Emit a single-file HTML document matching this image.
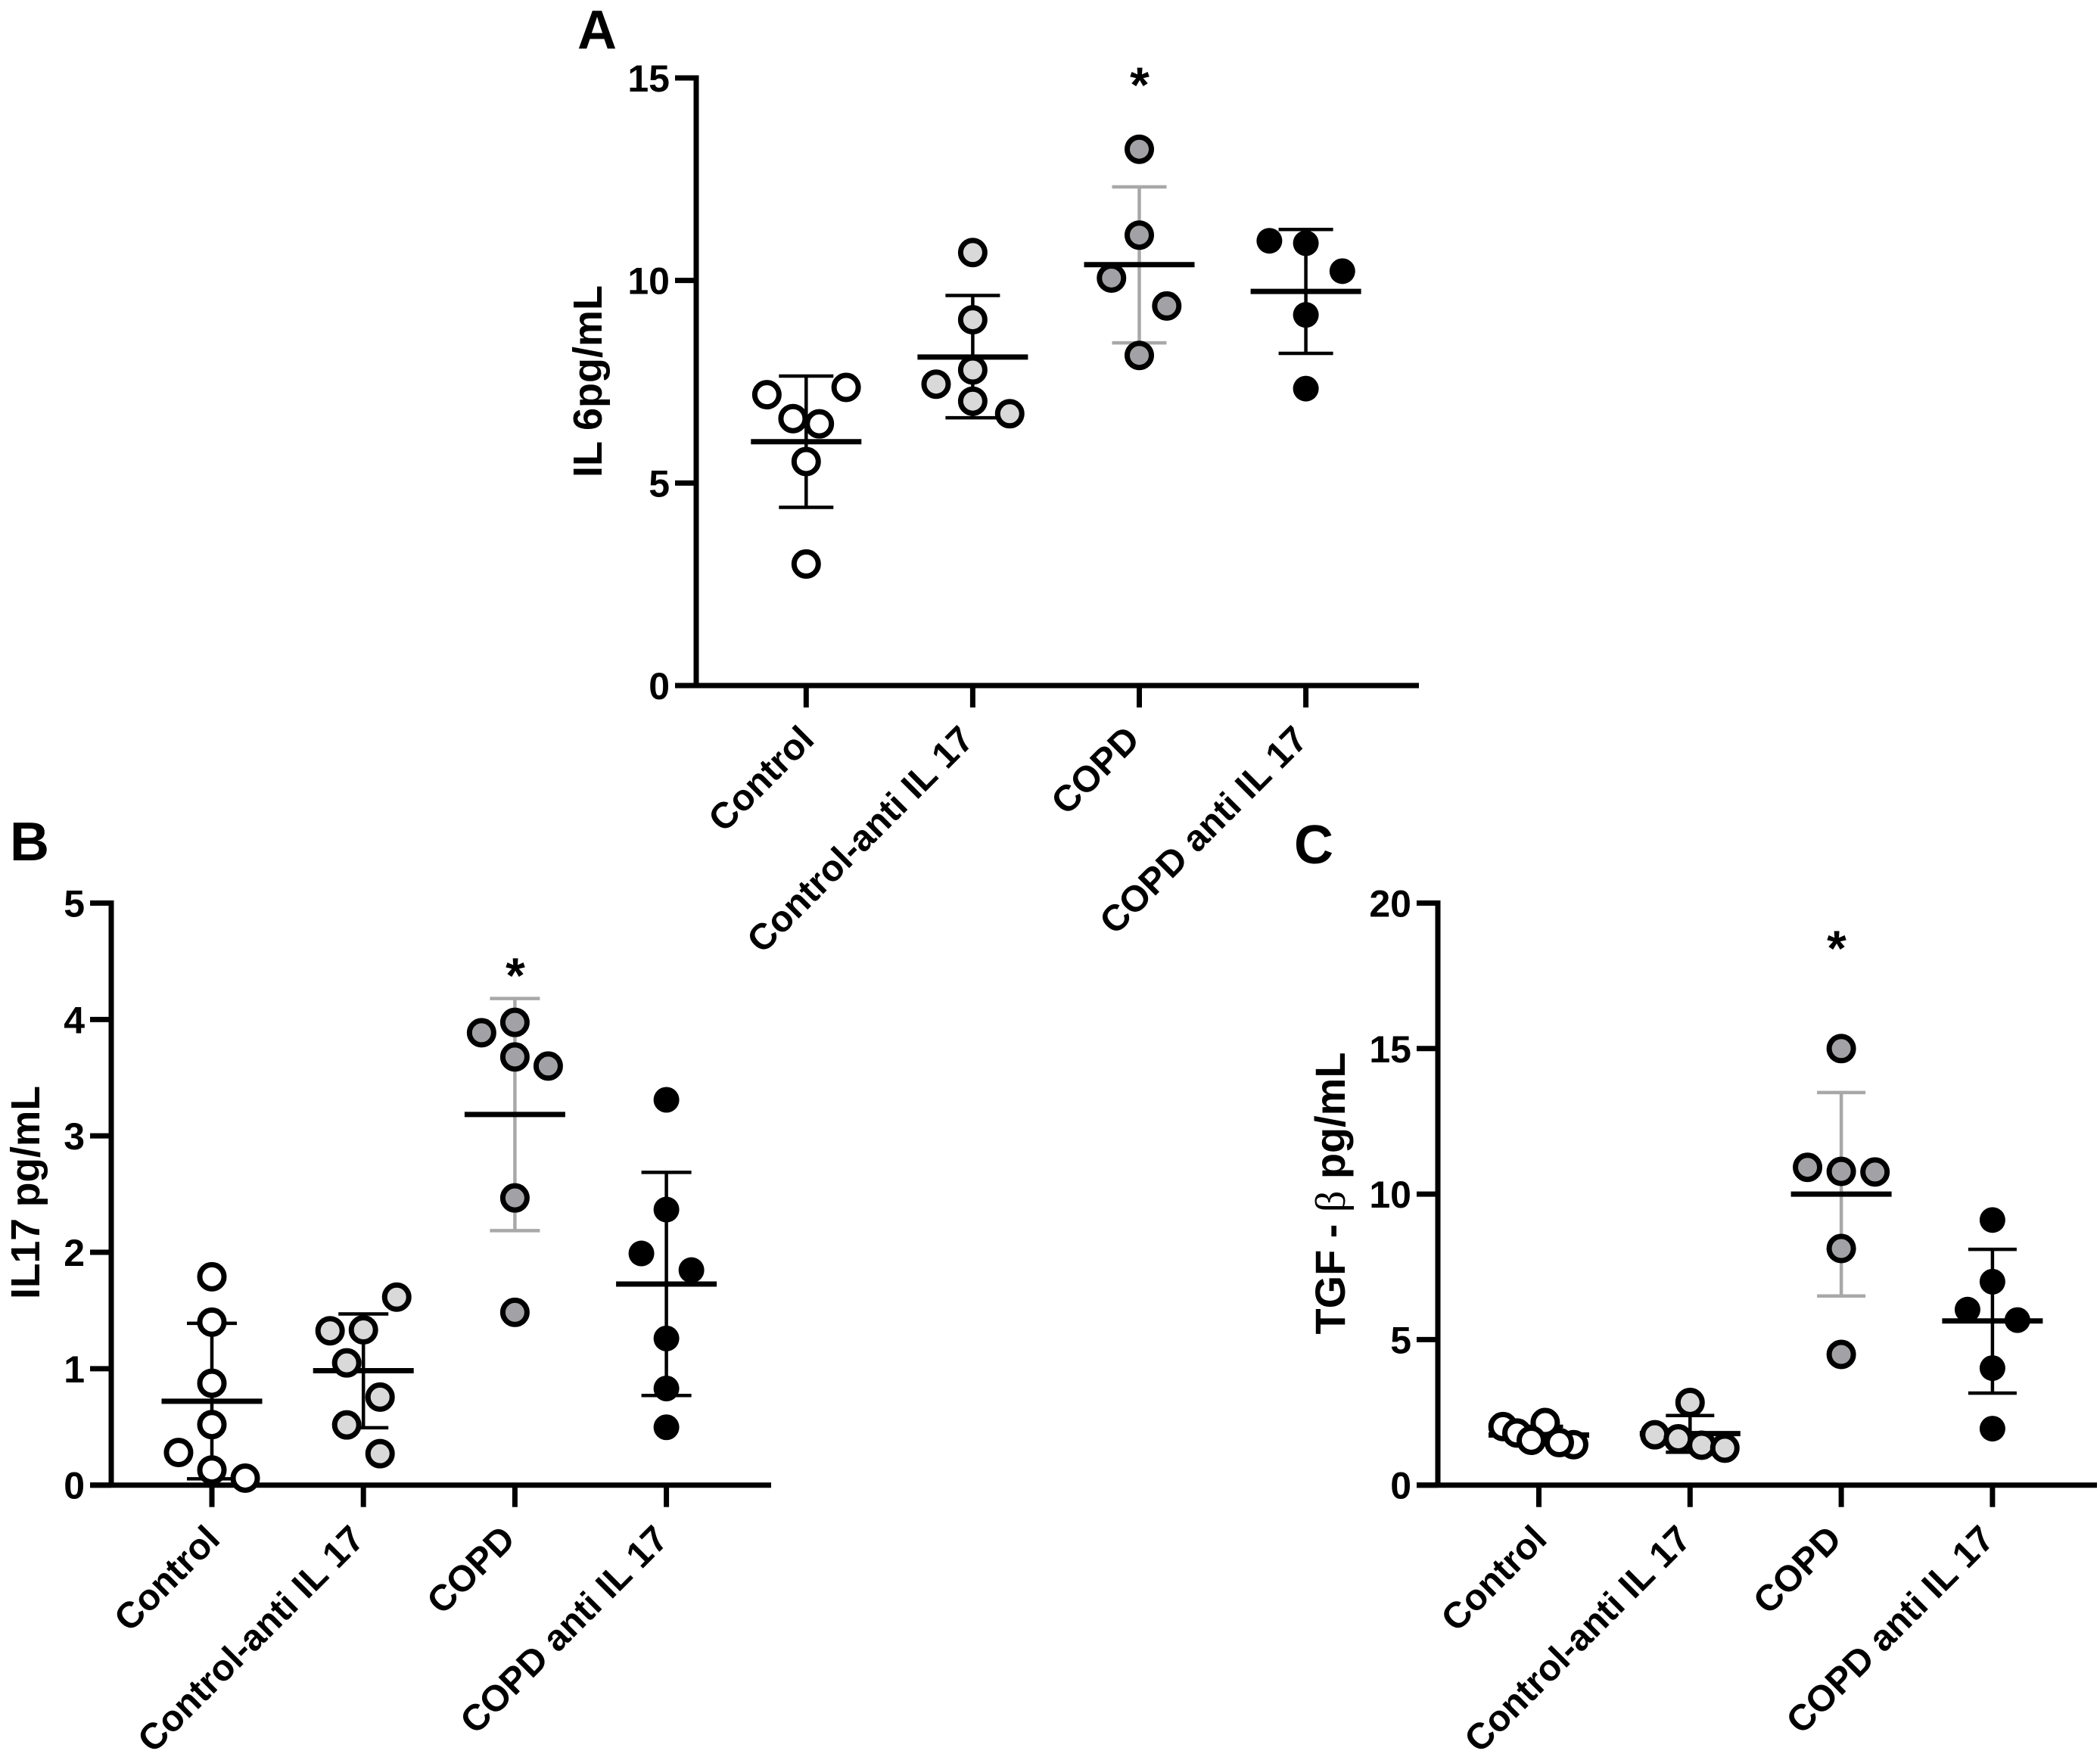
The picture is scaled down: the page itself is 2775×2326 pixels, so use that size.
<!DOCTYPE html>
<html lang="en">
<head>
<meta charset="utf-8">
<title>IL-6, IL-17 and TGF-β levels</title>
<style>
html,body{margin:0;padding:0;background:#fff;}
svg{display:block;}
text{font-family:"Liberation Sans",sans-serif;font-weight:700;fill:#000;}
</style>
</head>
<body>
<svg id="figure" xmlns="http://www.w3.org/2000/svg" width="2775" height="2326" viewBox="0 0 2775 2326">
<rect width="2775" height="2326" fill="#fff"/>
</svg>
<script>
var categories = ["Control", "Control-anti IL\u00a017", "COPD", "COPD anti IL\u00a017"];

var il6Ticks = [0, 5, 10, 15];
var il6Values = [
  [7.18, 7.36, 6.59, 6.46, 5.53, 3.0],
  [7.44, 6.71, 9.03, 7.79, 7.02, 10.69],
  [13.24, 11.12, 10.06, 9.37, 8.15],
  [10.98, 10.92, 10.23, 9.15, 7.33]
];
var il6Jitter = [
  [-0.236, 0.24, -0.079, 0.079, 0, 0],
  [-0.22, 0.222, 0, 0, 0, 0],
  [0, 0, -0.167, 0.165, 0],
  [-0.219, 0, 0.219, 0, 0]
];
var il6Means = [6.02, 8.11, 10.39, 9.73];
var il6Upper = [7.64, 9.63, 12.31, 11.26];
var il6Lower = [4.40, 6.61, 8.46, 8.20];

var il17Ticks = [0, 1, 2, 3, 4, 5];
var il17Values = [
  [1.79, 1.40, 0.875, 0.52, 0.28, 0.13, 0.06],
  [1.615, 1.326, 1.334, 1.05, 0.756, 0.517, 0.27],
  [3.975, 3.886, 3.678, 3.60, 2.467, 1.484],
  [3.31, 2.367, 1.99, 1.847, 1.26, 0.83, 0.497]
];
var il17Jitter = [
  [0, 0, 0, 0, -0.22, 0, 0.22],
  [0.22, -0.22, 0, -0.11, 0.11, -0.11, 0.11],
  [0, -0.22, 0, 0.22, 0, 0],
  [0, 0, -0.165, 0.165, 0, 0, 0]
];
var il17Means = [0.72, 0.983, 3.184, 1.727];
var il17Upper = [1.39, 1.47, 4.18, 2.687];
var il17Lower = [0.054, 0.493, 2.186, 0.77];

var tgfTicks = [0, 5, 10, 15, 20];
var tgfValues = [
  [2.01, 1.79, 1.39, 2.15, 1.54, 1.46],
  [2.84, 1.73, 1.59, 1.37, 1.27],
  [15.0, 10.92, 10.78, 10.76, 8.13, 4.49],
  [9.11, 6.99, 6.03, 5.67, 4.02, 1.94]
];
var tgfJitter = [
  [-0.237, -0.145, 0.23, 0.042, -0.05, 0.135],
  [0, -0.233, -0.078, 0.077, 0.23],
  [0, -0.223, 0, 0.223, 0, 0],
  [0, 0, -0.165, 0.165, 0, 0]
];
var tgfMeans = [1.72, 1.77, 10.0, 5.64];
var tgfUpper = [2.02, 2.39, 13.49, 8.1];
var tgfLower = [1.42, 1.13, 6.5, 3.16];

var groupFills = ["#ffffff", "#d9d9d9", "#a1a1a6", "#000000"];
var groupBars = ["#000000", "#000000", "#a8a8a8", "#000000"];
var labelNudge = [-2, -11, -12, -10];
var NS = "http://www.w3.org/2000/svg";
var svg = document.getElementById("figure");

function make(tag, attrs, parent) {
  var el = document.createElementNS(NS, tag);
  for (var k in attrs) el.setAttribute(k, attrs[k]);
  parent.appendChild(el);
  return el;
}

function drawLine(parent, name, x1, y1, x2, y2, color, width) {
  var el = make("line", {x1: x1, y1: y1, x2: x2, y2: y2, stroke: color, "stroke-width": width}, parent);
  
  
  return el;
}

function drawText(parent, name, content, attrs) {
  var el = make("text", attrs, parent);
  el.textContent = content;
  
  
  return el;
}

function drawPanel(p) {
  var g = make("g", {}, svg);
  
  

  var yScale = function (v) { return p.y0 - (v / p.yMax) * (p.y0 - p.yTop); };
  var xScale = function (c, jitter) { return p.cat0 + (c + (jitter || 0)) * p.catStep; };

  // panel letter
  drawText(g, p.id + "-letter", p.letter, {x: p.letterX, y: p.letterY, "font-size": 72});

  // y axis title
  var title = drawText(g, "y-axis-title", "", {
    transform: "translate(" + p.titleX + "," + p.titleY + ") rotate(-90)",
    "text-anchor": "middle", "font-size": p.titleSize,
    textLength: p.titleLen, lengthAdjust: "spacingAndGlyphs"
  });
  if (p.titleBeta) {
    var a = make("tspan", {}, title);
    a.textContent = "TGF - ";
    var b = make("tspan", {style: "font-family:'Liberation Serif','DejaVu Serif',serif;font-weight:400"}, title);
    b.textContent = "\u03b2";
    var c = make("tspan", {}, title);
    c.textContent = " pg/mL";
  } else {
    title.textContent = p.title;
  }

  // y ticks
  p.ticks.forEach(function (t) {
    var y = yScale(t);
    drawLine(g, "y-tick", p.x0 - 28, y, p.x0, y, "#000", 7);
    drawText(g, "y-tick-label", String(t), {
      x: p.x0 - 35, y: y + 18, "text-anchor": "end", "font-size": 50
    });
  });

  // axes
  drawLine(g, "y-axis", p.x0, p.yTop - 3.5, p.x0, p.y0, "#000", 7);
  drawLine(g, "x-axis", p.x0 - 28, p.y0, p.xEnd, p.y0, "#000", 7);

  // categories
  categories.forEach(function (name, i) {
    var x = xScale(i);
    drawLine(g, "x-tick", x, p.y0, x, p.y0 + 29, "#000", 7);
    drawText(g, "x-tick-label", name, {
      transform: "translate(" + (x + 15 + labelNudge[i]) + "," + (p.y0 + 74) + ") rotate(-45)",
      "text-anchor": "end", "font-size": 48.5
    });
  });

  // groups
  categories.forEach(function (name, i) {
    var cx = xScale(i);
    var color = groupBars[i];
    drawLine(g, "error-bar-" + i, cx, yScale(p.upper[i]), cx, yScale(p.lower[i]), color, 4.5);
    drawLine(g, "error-cap-upper-" + i, cx - p.capHalf, yScale(p.upper[i]), cx + p.capHalf, yScale(p.upper[i]), color, 4.5);
    drawLine(g, "error-cap-lower-" + i, cx - p.capHalf, yScale(p.lower[i]), cx + p.capHalf, yScale(p.lower[i]), color, 4.5);
    drawLine(g, "mean-line-" + i, cx - p.meanHalf, yScale(p.means[i]), cx + p.meanHalf, yScale(p.means[i]), "#000", 7);
    p.values[i].forEach(function (v, j) {
      var isSolid = i === 3;
      var dot = make("circle", {
        cx: xScale(i, p.jitter[i][j]), cy: yScale(v),
        r: isSolid ? 17 : 16,
        fill: groupFills[i],
        stroke: isSolid ? "none" : "#000",
        "stroke-width": isSolid ? 0 : 7
      }, g);
      
      
    });
  });

  // significance star
  drawText(g, "significance-star", "*", {
    x: p.starX, y: p.starY, "text-anchor": "middle", "font-size": 66
  });
}

drawPanel({
  id: "panel-a", letter: "A", letterX: 763, letterY: 64,
  title: "IL 6pg/mL", titleX: 795, titleY: 504, titleSize: 54, titleLen: 254,
  x0: 920, y0: 906, yTop: 103, yMax: 15, xEnd: 1875, cat0: 1065.3, catStep: 220.1,
  meanHalf: 73, capHalf: 36,
  ticks: il6Ticks, values: il6Values, jitter: il6Jitter,
  means: il6Means, upper: il6Upper, lower: il6Lower,
  starX: 1506, starY: 135
});
drawPanel({
  id: "panel-b", letter: "B", letterX: 13, letterY: 1137,
  title: "IL17 pg/mL", titleX: 52, titleY: 1576, titleSize: 54, titleLen: 282,
  x0: 147, y0: 1962.7, yTop: 1193.5, yMax: 5, xEnd: 1019, cat0: 280, catStep: 200.2,
  meanHalf: 66.5, capHalf: 33,
  ticks: il17Ticks, values: il17Values, jitter: il17Jitter,
  means: il17Means, upper: il17Upper, lower: il17Lower,
  starX: 681, starY: 1312
});
drawPanel({
  id: "panel-c", letter: "C", letterX: 1710, letterY: 1141,
  title: "TGF - β pg/mL", titleBeta: true, titleX: 1777, titleY: 1577, titleSize: 56, titleLen: 373,
  x0: 1900, y0: 1962.7, yTop: 1193.5, yMax: 20, xEnd: 2771, cat0: 2033.5, catStep: 199.8,
  meanHalf: 66.5, capHalf: 32,
  ticks: tgfTicks, values: tgfValues, jitter: tgfJitter,
  means: tgfMeans, upper: tgfUpper, lower: tgfLower,
  starX: 2427, starY: 1276
});
</script>
</body>
</html>
